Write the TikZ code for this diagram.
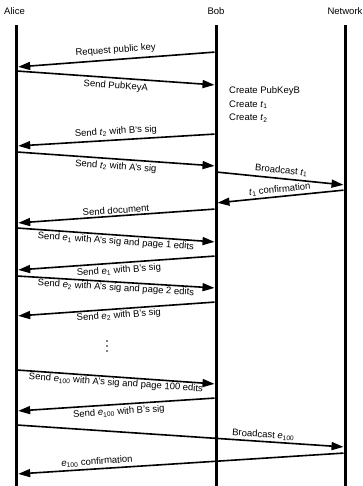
\documentclass[tikz,border=0pt]{standalone}
\usepackage{fontspec}
\setmainfont{Liberation Sans}
\usetikzlibrary{arrows.meta}
\newcommand\subit[2]{\textit{#1}\textsubscript{#2}}
\begin{document}
\begin{tikzpicture}[x=1pt,y=-1pt,
  lifeline/.style={line width=3pt},
  msg/.style={line width=1.6pt,-{Triangle[length=12pt,width=8pt]},shorten >=1.5pt,shorten <=1.5pt},
  lbl/.style={font=\fontsize{9.5}{11}\selectfont,sloped,inner sep=1pt},
  hdr/.style={font=\fontsize{9.5}{11}\selectfont,inner sep=0pt},
  note/.style={font=\fontsize{9.5}{11}\selectfont,inner sep=0pt,anchor=west},
  dot/.style={circle,fill,inner sep=0pt,minimum size=1.9pt}]
\useasboundingbox (0,0) rectangle (363,486);
% headers
\node[hdr] (alice) at (14.5,11) {Alice};
\node[hdr] (bob) at (216,11) {Bob};
\node[hdr] (net) at (345,11) {Network};
% lifelines
\coordinate (atop) at (16.7,25); \coordinate (abot) at (16.7,486);
\coordinate (btop) at (216,25);  \coordinate (bbot) at (216,486);
\coordinate (ntop) at (345,25);  \coordinate (nbot) at (345,486);
\draw[lifeline] (atop) -- (abot);
\draw[lifeline] (btop) -- (bbot);
\draw[lifeline] (ntop) -- (nbot);
% message end points
\coordinate (b1) at (216,52);  \coordinate (a1) at (16.7,67);
\coordinate (a2) at (16.7,71); \coordinate (b2) at (216,85);
\coordinate (b3) at (216,134); \coordinate (a3) at (16.7,146);
\coordinate (a4) at (16.7,152);\coordinate (b4) at (216,166);
\coordinate (b5) at (216,172); \coordinate (n5) at (345,185);
\coordinate (n6) at (345,190); \coordinate (b6) at (216,203);
\coordinate (b7) at (216,209); \coordinate (a7) at (16.7,223);
\coordinate (a8) at (16.7,228);\coordinate (b8) at (216,242);
\coordinate (b9) at (216,256); \coordinate (a9) at (16.7,270);
\coordinate (a10) at (16.7,276);\coordinate (b10) at (216,288);
\coordinate (b11) at (216,302); \coordinate (a11) at (16.7,316);
\coordinate (a12) at (16.7,370);\coordinate (b12) at (216,384);
\coordinate (b13) at (216,398); \coordinate (a13) at (16.7,411);
\coordinate (a14) at (16.7,425);\coordinate (n14) at (345,447);
\coordinate (n15) at (345,453); \coordinate (a15) at (16.7,474);
% messages
\draw[msg] (b1) -- node[lbl,above=3pt] (m1) {Request public key} (a1);
\draw[msg] (a2) -- node[lbl,below=2pt] (m2) {Send PubKeyA} (b2);
\node[note] (c1) at (229,91) {Create PubKeyB};
\node[note] (c2) at (229,104.5) {Create \subit{t}{1}};
\node[note] (c3) at (229,118) {Create \subit{t}{2}};
\draw[msg] (b3) -- node[lbl,above=2pt] (m3) {Send \subit{t}{2} with B's sig} (a3);
\draw[msg] (a4) -- node[lbl,below=1.5pt] (m4) {Send \subit{t}{2} with A's sig} (b4);
\draw[msg] (b5) -- node[lbl,above=2pt] (m5) {Broadcast \subit{t}{1}} (n5);
\draw[msg] (n6) -- node[lbl,above=1pt] (m6) {\subit{t}{1} confirmation} (b6);
\draw[msg] (b7) -- node[lbl,above=0.5pt] (m7) {Send document} (a7);
\draw[msg] (a8) -- node[lbl,below=0.5pt] (m8) {Send \subit{e}{1} with A's sig and page 1 edits} (b8);
\draw[msg] (b9) -- node[lbl,below=1.5pt,pos=0.49] (m9) {Send \subit{e}{1} with B's sig} (a9);
\draw[msg] (a10) -- node[lbl,below=0pt] (m10) {Send \subit{e}{2} with A's sig and page 2 edits} (b10);
\draw[msg] (b11) -- node[lbl,below=0.5pt,pos=0.49] (m11) {Send \subit{e}{2} with B's sig} (a11);
% vertical ellipsis
\node[dot] (d1) at (107,341) {};
\node[dot] (d2) at (107,346) {};
\node[dot] (d3) at (107,351) {};
\draw[msg] (a12) -- node[lbl,below=0pt] (m12) {Send \subit{e}{100} with A's sig and page 100 edits} (b12);
\draw[msg] (b13) -- node[lbl,below=1.5pt,pos=0.49] (m13) {Send \subit{e}{100} with B's sig} (a13);
\draw[msg] (a14) -- node[lbl,above=0.5pt,pos=0.75] (m14) {Broadcast \subit{e}{100}} (n14);
\draw[msg] (n15) -- node[lbl,above=1pt,pos=0.754] (m15) {\subit{e}{100} confirmation} (a15);
\end{tikzpicture}
\end{document}
